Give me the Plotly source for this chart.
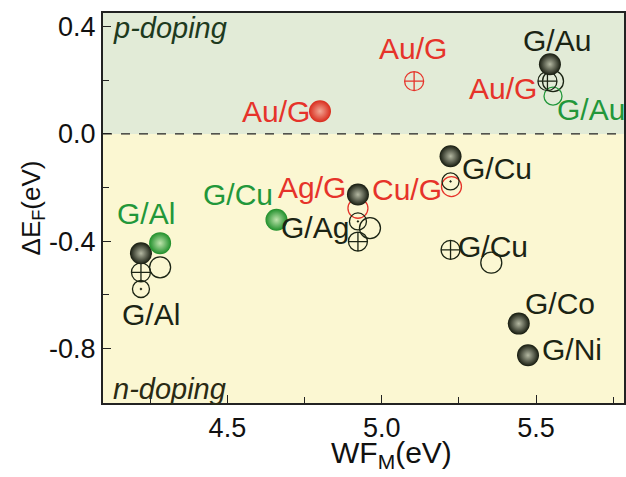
import plotly.graph_objects as go

# ---- data ----
black_sphere_x = [5.545, 5.223, 4.923, 4.220, 5.444, 5.474]
black_sphere_y = [0.260, -0.083, -0.226, -0.445, -0.707, -0.825]
red_sphere_x = [4.800]
red_sphere_y = [0.085]
green_sphere_x = [4.659, 4.282]
green_sphere_y = [-0.320, -0.407]

black_cross_x = [5.537, 4.923, 4.220, 5.223]
black_cross_y = [0.197, -0.401, -0.516, -0.432]
red_cross_x = [5.105]
red_cross_y = [0.197]

black_open_x = [5.555, 4.962, 4.282, 5.355]
black_open_y = [0.197, -0.351, -0.497, -0.480]
red_open_x = [5.226, 4.923]
red_open_y = [-0.196, -0.277]
green_open_x = [5.555]
green_open_y = [0.141]

black_dot_x = [5.223, 4.923, 4.220]
black_dot_y = [-0.177, -0.326, -0.578]

label_text = ["Au/G", "Au/G", "G/Au", "Au/G", "G/Au", "G/Cu", "Cu/G", "Ag/G",
              "G/Cu", "G/Ag", "G/Al", "G/Al", "G/Cu", "G/Co", "G/Ni"]
label_x = [4.656, 5.101, 5.569, 5.392, 5.679, 5.372, 5.081, 4.775,
           4.533, 4.785, 4.236, 4.253, 5.362, 5.578, 5.617]
label_y = [0.085, 0.317, 0.347, 0.171, 0.092, -0.130, -0.207, -0.199,
           -0.225, -0.348, -0.296, -0.674, -0.420, -0.633, -0.805]
label_color = ["red", "red", "black", "red", "green", "black", "red", "red",
               "green", "black", "green", "black", "black", "black", "black"]

x_ticks = [4.5, 5.0, 5.5]
y_ticks = [0.4, 0.0, -0.4, -0.8]
x_range = [4.097, 5.785]
y_range = [-1.003, 0.451]

FONT = "Liberation Sans, Arial"
COL = {"red": "#e6332a", "green": "#22973a", "black": "#1b2414"}

fig = go.Figure()

# background regions
fig.add_shape(type="rect", xref="paper", yref="y", x0=0, x1=1, y0=0, y1=y_range[1],
              fillcolor="#e2ebd7", line_width=0, layer="below")
fig.add_shape(type="rect", xref="paper", yref="y", x0=0, x1=1, y0=y_range[0], y1=0,
              fillcolor="#fbf7d2", line_width=0, layer="below")
fig.add_shape(type="line", xref="paper", yref="y", x0=0, x1=1, y0=0, y1=0,
              line=dict(color="#222", width=1.2, dash="dash"), layer="above")


def sphere(x, y, edge, center, size=22):
    fig.add_trace(go.Scatter(
        x=x, y=y, mode="markers",
        marker=dict(size=size, color=edge, symbol="circle",
                    gradient=dict(type="radial", color=center),
                    line=dict(width=0)),
        showlegend=False, hoverinfo="skip"))


def open_marker(x, y, color, symbol, size):
    fig.add_trace(go.Scatter(
        x=x, y=y, mode="markers",
        marker=dict(size=size, color=color, symbol=symbol,
                    line=dict(width=1.3, color=color)),
        showlegend=False, hoverinfo="skip"))


open_marker(black_open_x, black_open_y, COL["black"], "circle-open", 21)
open_marker(red_open_x, red_open_y, COL["red"], "circle-open", 20)
open_marker(green_open_x, green_open_y, COL["green"], "circle-open", 18)
open_marker(black_dot_x, black_dot_y, COL["black"], "circle-open-dot", 17)
open_marker(black_cross_x, black_cross_y, COL["black"], "circle-cross-open", 19)
open_marker(red_cross_x, red_cross_y, COL["red"], "circle-cross-open", 19)

sphere(black_sphere_x, black_sphere_y, "#151a0e", "#b4b8a2")
sphere(red_sphere_x, red_sphere_y, "#d92b1c", "#f2a896")
sphere(green_sphere_x, green_sphere_y, "#1f8f2a", "#bfe4ad")

for t, x, y, c in zip(label_text, label_x, label_y, label_color):
    fig.add_annotation(x=x, y=y, text=t, showarrow=False,
                       font=dict(family=FONT, size=30, color=COL[c]),
                       xanchor="center", yanchor="middle")

fig.add_annotation(x=0.015, xref="paper", y=0.395, yref="y", text="<i>p-doping</i>",
                   showarrow=False, xanchor="left", yanchor="middle",
                   font=dict(family=FONT, size=29, color="#1e3a1e"))
fig.add_annotation(x=0.015, xref="paper", y=-0.950, yref="y", text="<i>n-doping</i>",
                   showarrow=False, xanchor="left", yanchor="middle",
                   font=dict(family=FONT, size=29, color="#2a2a14"))

# x-axis title placed as in the reference (slightly right of centre)
fig.add_annotation(x=5.033, xref="x", y=-0.132, yref="paper", text="WF<sub>M</sub>(eV)",
                   showarrow=False, xanchor="center", yanchor="middle",
                   font=dict(family=FONT, size=30, color="#111"))

axis_common = dict(showline=True, linecolor="#222", linewidth=2, mirror=True,
                   showgrid=False, zeroline=False, ticks="inside", ticklen=8,
                   tickwidth=1.3, tickcolor="#222",
                   tickfont=dict(family=FONT, size=27, color="#111"),
                   minor=dict(ticks="inside", ticklen=6, tickwidth=1.3, tickcolor="#222"))

fig.update_xaxes(range=x_range, tickvals=x_ticks, ticktext=[f"{v:.1f}" for v in x_ticks],
                 minor_dtick=0.25, minor_tick0=4.25, **axis_common)
fig.update_yaxes(range=y_range, tickvals=y_ticks, ticktext=[f"{v:.1f}" for v in y_ticks],
                 minor_dtick=0.2, minor_tick0=0.0,
                 title=dict(text="ΔE<sub>F</sub>(eV)", standoff=0,
                            font=dict(family=FONT, size=26, color="#111")),
                 **axis_common)

fig.update_layout(width=626, height=477,
                  margin=dict(l=103, r=0, t=13, b=74, pad=0),
                  paper_bgcolor="white", plot_bgcolor="white")

fig.write_html("out.html")
